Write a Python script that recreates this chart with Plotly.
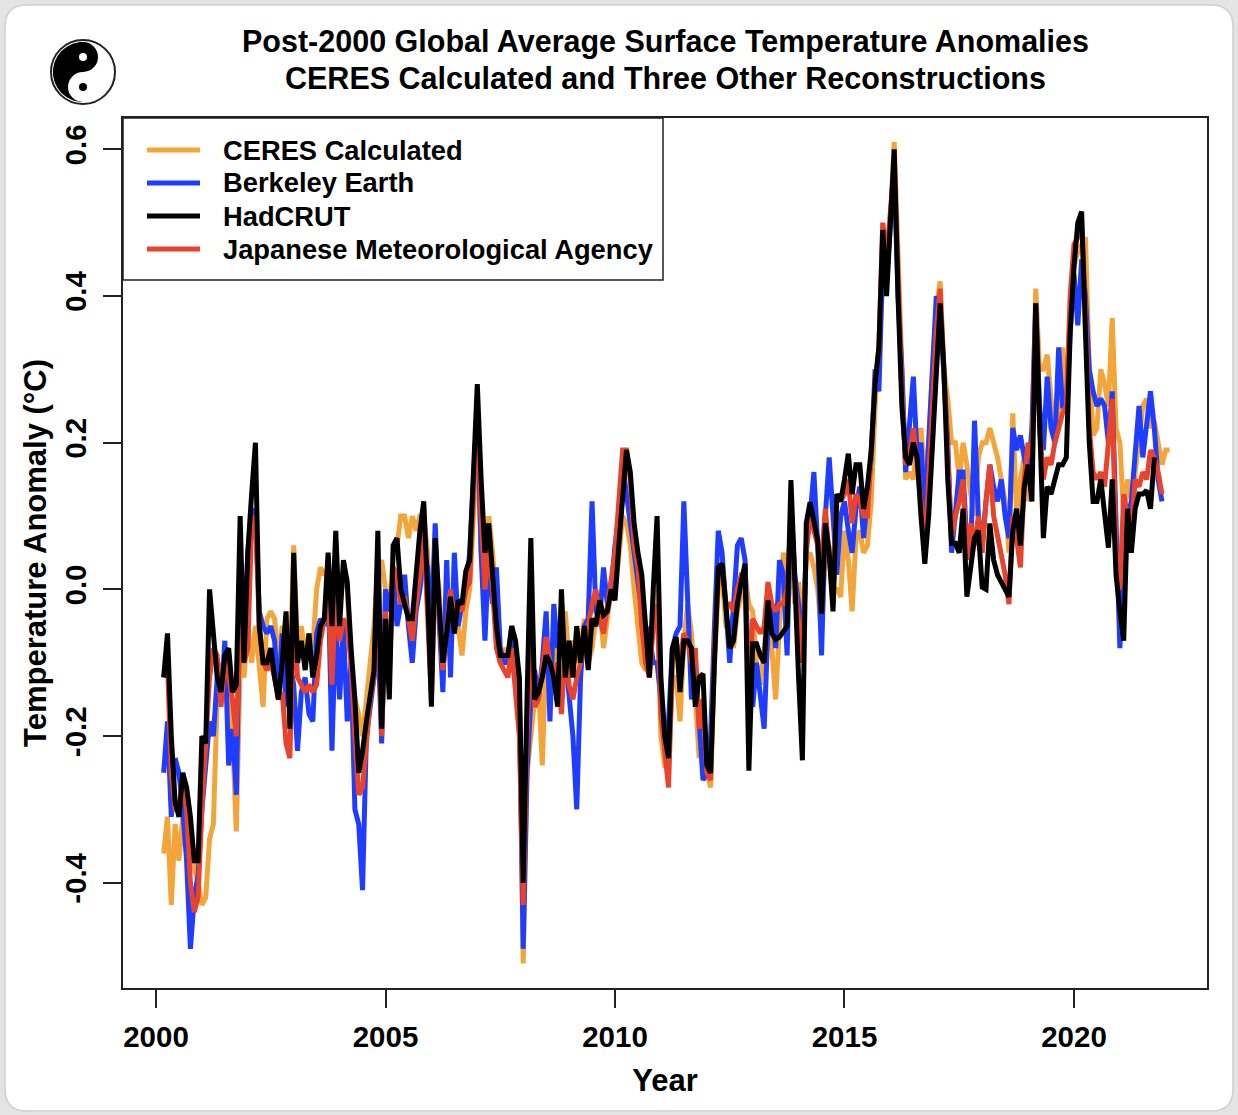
import plotly.graph_objects as go
import numpy as np

# ---------------- data (monthly anomalies, deg C; first value = March 2000) ----------------
start_year = 2000
start_month = 3

ceres = [
    -0.36, -0.31, -0.43, -0.32, -0.37, -0.31, -0.33, -0.35, -0.38, -0.40,              # 2000 Mar-Dec
    -0.43, -0.42, -0.34, -0.32, -0.15, -0.10, -0.12, -0.14, -0.20, -0.33, -0.10, -0.12,  # 2001
    -0.05, -0.10, -0.05, -0.10, -0.16, -0.04, -0.03, -0.04, -0.10, -0.05, -0.06, -0.12,  # 2002
    0.06, -0.08, -0.05, -0.09, -0.06, -0.08, 0.00, 0.03, 0.02, 0.03, -0.03, 0.05,        # 2003
    -0.03, 0.03, 0.00, -0.10, -0.15, -0.17, -0.20, -0.15, -0.10, -0.05, 0.03, 0.04,      # 2004
    0.00, -0.03, 0.05, 0.06, 0.10, 0.10, 0.07, 0.10, 0.08, 0.10, 0.10, 0.05,             # 2005
    -0.05, 0.05, 0.00, -0.10, -0.08, -0.02, -0.06, -0.05, -0.09, -0.03, 0.00, 0.10,      # 2006
    0.20, 0.05, 0.03, 0.10, 0.05, -0.02, -0.10, -0.08, -0.09, -0.06, -0.10, -0.15,       # 2007
    -0.51, -0.25, -0.20, -0.15, -0.13, -0.24, -0.08, -0.10, -0.10, -0.05, -0.05, -0.03,  # 2008
    -0.10, -0.07, -0.10, -0.08, -0.04, -0.10, -0.08, -0.04, -0.02, -0.08, -0.04, 0.00,   # 2009
    -0.01, 0.05, 0.10, 0.09, 0.06, 0.00, -0.05, -0.10, -0.11, -0.10, -0.05, 0.00,        # 2010
    -0.20, -0.24, -0.24, -0.12, -0.12, -0.18, -0.07, -0.02, -0.06, -0.15, -0.23, -0.20,  # 2011
    -0.25, -0.27, -0.10, 0.00, 0.02, -0.05, -0.06, -0.08, -0.03, -0.01, 0.02, -0.02,     # 2012
    -0.03, -0.10, -0.13, -0.08, -0.03, -0.08, -0.15, -0.05, 0.05, 0.02, 0.05, -0.02,     # 2013
    0.01, -0.05, 0.04, 0.05, 0.03, 0.00, -0.06, 0.05, 0.06, 0.00, 0.00, -0.01,           # 2014
    0.08, 0.04, -0.03, 0.07, 0.08, 0.05, 0.06, 0.12, 0.25, 0.33, 0.42, 0.42,             # 2015
    0.50, 0.61, 0.45, 0.28, 0.15, 0.16, 0.15, 0.20, 0.22, 0.15, 0.20, 0.30,              # 2016
    0.38, 0.42, 0.30, 0.26, 0.20, 0.20, 0.15, 0.20, 0.17, 0.13, 0.10, 0.18,              # 2017
    0.20, 0.20, 0.22, 0.20, 0.18, 0.15, 0.12, 0.05, 0.24, 0.10, 0.15, 0.18,              # 2018
    0.12, 0.20, 0.41, 0.30, 0.30, 0.32, 0.25, 0.20, 0.22, 0.33, 0.25, 0.38,              # 2019
    0.44, 0.46, 0.47, 0.48, 0.30, 0.21, 0.22, 0.30, 0.28, 0.25, 0.37, 0.22,              # 2020
    0.20, 0.10, 0.15, 0.12, 0.16, 0.20, 0.25, 0.26, 0.22, 0.23, 0.20, 0.17,              # 2021
    0.19, 0.19,                                                                          # 2022 Jan-Feb
]

berkeley = [
    -0.25, -0.18, -0.31, -0.23, -0.25, -0.30, -0.37, -0.49, -0.42, -0.39,
    -0.30, -0.24, -0.18, -0.20, -0.12, -0.15, -0.07, -0.24, -0.19, -0.28, 0.00, -0.08,
    0.05, 0.11, 0.10, -0.03, -0.05, -0.06, -0.05, -0.07, -0.15, -0.06, -0.16, -0.10,
    -0.13, -0.22, -0.14, -0.12, -0.17, -0.18, -0.06, -0.04, -0.05, 0.02, -0.22, -0.04,
    -0.15, -0.05, -0.18, -0.10, -0.30, -0.32, -0.41, -0.20, -0.16, -0.12, -0.06, -0.21,
    0.00, -0.03, 0.02, -0.05, -0.02, 0.02, -0.05, -0.10, -0.03, 0.00, 0.05, 0.03,
    -0.05, 0.09, -0.04, -0.14, 0.04, -0.12, 0.05, -0.05, -0.02, 0.00, 0.05, 0.15,
    0.25, 0.05, -0.07, 0.05, -0.02, 0.03, -0.08, -0.10, -0.10, -0.05, -0.09, -0.15,
    -0.49, -0.25, -0.15, -0.11, -0.15, -0.10, -0.03, -0.18, -0.02, -0.08, -0.05, -0.09,
    -0.15, -0.20, -0.30, -0.12, -0.05, -0.04, 0.12, -0.03, -0.04, 0.03, -0.02, 0.00,
    0.06, 0.10, 0.17, 0.13, 0.10, 0.06, 0.02, -0.03, -0.05, -0.06, -0.10, -0.10,
    -0.15, -0.19, -0.18, -0.08, -0.06, -0.05, 0.12, -0.02, -0.15, -0.10, -0.17, -0.26,
    -0.25, -0.20, -0.05, 0.08, 0.05, -0.02, -0.10, -0.02, 0.06, 0.07, 0.04, -0.13,
    -0.16, -0.10, -0.15, -0.19, -0.05, -0.02, -0.08, 0.04, 0.02, -0.09, 0.12, 0.02,
    -0.02, -0.10, 0.06, 0.10, 0.16, 0.06, -0.09, 0.10, 0.18, 0.10, 0.02, 0.10,
    0.12, 0.08, 0.05, 0.11, 0.14, 0.07, 0.13, 0.18, 0.30, 0.27, 0.45, 0.42,
    0.50, 0.57, 0.40, 0.30, 0.16, 0.22, 0.29, 0.18, 0.20, 0.10, 0.20, 0.30,
    0.40, 0.38, 0.30, 0.20, 0.05, 0.10, 0.16, 0.16, 0.06, 0.05, 0.23, 0.10,
    0.06, 0.12, 0.17, 0.14, 0.12, 0.15, 0.10, 0.07, 0.22, 0.19, 0.21, 0.18,
    0.15, 0.22, 0.39, 0.25, 0.19, 0.29, 0.22, 0.20, 0.33, 0.25, 0.25, 0.35,
    0.43, 0.36, 0.45, 0.40, 0.30, 0.27, 0.25, 0.26, 0.25, 0.20, 0.27, 0.09,
    -0.08, 0.05, 0.10, 0.12, 0.18, 0.25, 0.18, 0.22, 0.27, 0.22, 0.15, 0.12,
]

hadcrut = [
    -0.12, -0.06, -0.20, -0.29, -0.31, -0.25, -0.27, -0.31, -0.37, -0.37,
    -0.20, -0.21, 0.00, -0.07, -0.12, -0.14, -0.09, -0.08, -0.14, -0.13, 0.10, -0.10,
    0.05, 0.13, 0.20, -0.05, -0.10, -0.10, -0.08, -0.12, -0.15, -0.10, -0.03, -0.19,
    0.05, -0.10, -0.07, -0.11, -0.06, -0.12, -0.09, -0.05, -0.04, 0.05, -0.05, 0.08,
    -0.05, 0.04, 0.01, -0.08, -0.15, -0.25, -0.22, -0.18, -0.14, -0.11, 0.08, -0.19,
    -0.04, -0.15, 0.06, 0.07, 0.00, -0.02, -0.04, -0.04, 0.02, 0.08, 0.12, 0.00,
    -0.16, 0.07, -0.02, -0.10, -0.06, -0.01, -0.06, -0.015, -0.02, 0.025, 0.04, 0.15,
    0.28, 0.15, 0.05, 0.09, 0.02, -0.05, -0.09, -0.09, -0.09, -0.05, -0.07, -0.12,
    -0.40, -0.15, 0.07, -0.15, -0.14, -0.12, -0.09, -0.10, -0.12, -0.16, 0.00, -0.12,
    -0.07, -0.12, -0.05, -0.10, -0.05, -0.11, -0.04, -0.05, -0.015, -0.035, -0.03, 0.00,
    -0.015, 0.06, 0.12, 0.19, 0.16, 0.09, 0.05, 0.02, -0.05, -0.12, 0.00, 0.10,
    -0.12, -0.20, -0.23, -0.08, -0.065, -0.14, -0.07, -0.07, -0.08, -0.16, -0.12, -0.115,
    -0.24, -0.25, -0.10, 0.03, 0.035, -0.02, -0.08, -0.07, -0.02, 0.01, 0.035, -0.247,
    -0.074, -0.074, -0.09, -0.10, -0.015, -0.06, -0.068, -0.065, -0.056, -0.05, 0.149, -0.011,
    -0.12, -0.233, 0.09, 0.119, 0.09, 0.067, -0.033, 0.09, 0.05, -0.03, 0.13, 0.12,
    0.15, 0.185, 0.13, 0.17, 0.17, 0.11, 0.14, 0.19, 0.28, 0.33, 0.49, 0.40,
    0.50, 0.60, 0.40, 0.25, 0.18, 0.17, 0.20, 0.18, 0.10, 0.035, 0.10, 0.20,
    0.30, 0.39, 0.30, 0.15, 0.063, 0.063, 0.05, 0.11, -0.01, 0.03, 0.07, 0.08,
    0.003, 0.00, 0.09, 0.04, 0.02, 0.01, 0.00, -0.01, 0.08, 0.11, 0.06, 0.14,
    0.17, 0.12, 0.39, 0.20, 0.07, 0.14, 0.13, 0.15, 0.17, 0.17, 0.18, 0.35,
    0.44, 0.50, 0.515, 0.35, 0.20, 0.12, 0.12, 0.15, 0.10, 0.057, 0.15, 0.02,
    -0.03, -0.07, 0.11, 0.05, 0.11, 0.13, 0.13, 0.135, 0.11, 0.18,
]

jma = [
    -0.12, -0.10, -0.25, -0.30, -0.30, -0.26, -0.30, -0.40, -0.44, -0.42,
    -0.30, -0.20, -0.12, -0.08, -0.09, -0.16, -0.10, -0.12, -0.15, -0.20, -0.05, -0.10,
    -0.08, 0.09, 0.10, -0.05, -0.10, -0.11, -0.10, -0.12, -0.15, -0.14, -0.21, -0.23,
    -0.02, -0.12, -0.13, -0.14, -0.13, -0.14, -0.13, -0.07, -0.04, 0.00, -0.13, 0.00,
    -0.07, -0.04, -0.05, -0.10, -0.20, -0.28, -0.27, -0.20, -0.15, -0.12, 0.03, -0.20,
    -0.03, -0.12, 0.03, 0.02, -0.02, -0.01, -0.04, -0.07, -0.02, 0.02, 0.08, -0.02,
    -0.15, 0.03, -0.03, -0.11, -0.05, 0.00, -0.04, -0.02, -0.03, 0.00, 0.01, 0.12,
    0.25, 0.10, 0.00, 0.06, 0.00, -0.08, -0.10, -0.11, -0.12, -0.08, -0.15, -0.20,
    -0.43, -0.20, -0.05, -0.16, -0.15, -0.10, -0.065, -0.10, -0.12, -0.10, -0.17, -0.08,
    -0.13, -0.15, -0.12, -0.10, -0.08, -0.05, -0.02, 0.00, -0.04, -0.06, -0.02, 0.01,
    0.05, 0.12, 0.19, 0.19, 0.15, 0.06, 0.03, -0.05, -0.10, -0.12, -0.05, -0.02,
    -0.17, -0.22, -0.27, -0.10, -0.07, -0.10, -0.06, -0.07, -0.10, -0.08, -0.19, -0.15,
    -0.25, -0.26, -0.08, 0.02, 0.035, -0.02, -0.02, -0.03, 0.00, 0.02, 0.02, -0.15,
    -0.04, -0.05, -0.06, -0.05, 0.01, -0.02, -0.03, -0.02, -0.02, 0.00, 0.10, 0.01,
    -0.04, -0.10, 0.05, 0.10, 0.08, 0.06, 0.04, 0.11, 0.05, -0.02, 0.13, 0.12,
    0.13, 0.15, 0.09, 0.13, 0.12, 0.10, 0.10, 0.18, 0.28, 0.33, 0.50, 0.45,
    0.52, 0.58, 0.43, 0.27, 0.17, 0.18, 0.22, 0.17, 0.12, 0.05, 0.15, 0.25,
    0.35, 0.41, 0.30, 0.17, 0.07, 0.10, 0.12, 0.15, 0.04, 0.09, 0.06, 0.10,
    0.05, 0.12, 0.17, 0.10, 0.07, 0.05, 0.02, -0.02, 0.10, 0.07, 0.03, 0.15,
    0.20, 0.18, 0.38, 0.22, 0.15, 0.18, 0.17, 0.20, 0.22, 0.24, 0.25, 0.40,
    0.47, 0.48, 0.50, 0.38, 0.22, 0.16, 0.15, 0.16, 0.14, 0.20, 0.26, 0.05,
    0.00, 0.13, 0.10, 0.08, 0.15, 0.14, 0.16, 0.15, 0.19, 0.18, 0.16, 0.13,
]

series_names = ["CERES Calculated", "Berkeley Earth", "HadCRUT", "Japanese Meteorological Agency"]
series_colors = ["#F4A53A", "#1F3DFF", "#000000", "#E8432D"]

title_lines = ["Post-2000 Global Average Surface Temperature Anomalies",
               "CERES Calculated and Three Other Reconstructions"]

x_ticks = [2000, 2005, 2010, 2015, 2020]
y_ticks = [-0.4, -0.2, 0.0, 0.2, 0.4, 0.6]
y_tick_text = ["-0.4", "-0.2", "0.0", "0.2", "0.4", "0.6"]


def decimal_years(n):
    return [start_year + (start_month - 1 + k) / 12.0 for k in range(n)]


FONT = "Liberation Sans, Arial, Helvetica, sans-serif"
LW = 5

series = {
    "CERES Calculated": ceres,
    "Berkeley Earth": berkeley,
    "HadCRUT": hadcrut,
    "Japanese Meteorological Agency": jma,
}

fig = go.Figure()
# drawing order: orange, blue, red, black (black on top)
draw_order = ["CERES Calculated", "Berkeley Earth", "Japanese Meteorological Agency", "HadCRUT"]
for name in draw_order:
    vals = series[name]
    i = series_names.index(name)
    fig.add_trace(go.Scatter(
        x=decimal_years(len(vals)), y=vals, mode="lines", name=name,
        line=dict(color=series_colors[i], width=LW), showlegend=False,
    ))

# ---------------- pixel helpers ----------------
W, H = 1238, 1115
L, R, T, B = 123, 31, 118, 127
pw, ph = W - L - R, H - T - B


def px(x):
    return (x - L) / pw


def py(y):
    return (H - B - y) / ph


shapes = []
annotations = []

# rounded card background
r = 22
x0, y0, x1, y1 = 5, 5, 1233, 1111
path = (f"M {px(x0 + r)},{py(y0)} L {px(x1 - r)},{py(y0)} "
        f"Q {px(x1)},{py(y0)} {px(x1)},{py(y0 + r)} L {px(x1)},{py(y1 - r)} "
        f"Q {px(x1)},{py(y1)} {px(x1 - r)},{py(y1)} L {px(x0 + r)},{py(y1)} "
        f"Q {px(x0)},{py(y1)} {px(x0)},{py(y1 - r)} L {px(x0)},{py(y0 + r)} "
        f"Q {px(x0)},{py(y0)} {px(x0 + r)},{py(y0)} Z")
shapes.append(dict(type="path", xref="paper", yref="paper", path=path,
                   fillcolor="white", line=dict(color="#cfcfcf", width=1.5), layer="below"))

# simple yin-yang logo
cx, cy, rad = 83, 72, 30
theta = np.linspace(np.pi / 2, 3 * np.pi / 2, 60)
left_half = [(cx + rad * np.cos(t), cy - rad * np.sin(t)) for t in theta]
lp = "M " + " L ".join(f"{px(a)},{py(b)}" for a, b in left_half) + " Z"


def circle(ccx, ccy, rr, fill, line_color=None, lw=0):
    return dict(type="circle", xref="paper", yref="paper",
                x0=px(ccx - rr), x1=px(ccx + rr), y0=py(ccy + rr), y1=py(ccy - rr),
                fillcolor=fill, line=dict(color=line_color or fill, width=lw), layer="above")


shapes.append(circle(cx, cy, rad + 2, "white", "#222222", 2))
shapes.append(dict(type="path", xref="paper", yref="paper", path=lp,
                   fillcolor="black", line=dict(color="black", width=0), layer="above"))
shapes.append(circle(cx, cy - rad / 2, rad / 2, "black"))
shapes.append(circle(cx, cy + rad / 2, rad / 2, "white"))
shapes.append(circle(cx, cy - rad / 2, 4, "white"))
shapes.append(circle(cx, cy + rad / 2, 4, "black"))

# title (two centred lines, as in the R plot)
for yy, line in zip([42, 78], title_lines):
    annotations.append(dict(text=f"<b>{line}</b>", xref="paper", yref="paper",
                            x=px(665), y=py(yy), xanchor="center", yanchor="middle",
                            showarrow=False, font=dict(size=30.5, family=FONT, color="black")))

# legend box (drawn like R's legend)
shapes.append(dict(type="rect", xref="paper", yref="paper",
                   x0=px(123), x1=px(663), y0=py(280), y1=py(118),
                   fillcolor="white", line=dict(color="#222222", width=1.5), layer="above"))
legend_rows = [150, 183, 216, 249]
for i, name in enumerate(series_names):
    yy = legend_rows[i]
    shapes.append(dict(type="line", xref="paper", yref="paper",
                       x0=px(147), x1=px(200), y0=py(yy), y1=py(yy),
                       line=dict(color=series_colors[i], width=LW), layer="above"))
    annotations.append(dict(text=f"<b>{name}</b>", xref="paper", yref="paper",
                            x=px(221), y=py(yy), xanchor="left", yanchor="middle",
                            showarrow=False, font=dict(size=27.3, family=FONT, color="black")))

fig.update_layout(
    width=W, height=H,
    margin=dict(l=L, r=R, t=T, b=B),
    paper_bgcolor="#e4e4e4",
    plot_bgcolor="white",
    font=dict(family=FONT, size=29, color="black"),
    xaxis=dict(
        range=[1999.281, 2022.898], tickmode="array", tickvals=x_ticks,
        ticktext=[f"<b>{v}</b>" for v in x_ticks],
        ticks="outside", ticklen=18, tickwidth=1.5, tickcolor="#222222",
        showline=True, linecolor="#222222", linewidth=1.5, mirror=True,
        showgrid=False, zeroline=False, ticklabelstandoff=4,
        title=dict(text="<b>Year</b>", font=dict(size=31), standoff=17),
        tickfont=dict(size=29.5),
    ),
    yaxis=dict(
        range=[-0.5434, 0.6427], tickmode="array", tickvals=y_ticks,
        ticktext=[f"<b>{t}</b>" for t in y_tick_text], tickangle=-90,
        ticks="outside", ticklen=18, tickwidth=1.5, tickcolor="#222222",
        showline=True, linecolor="#222222", linewidth=1.5, mirror=True,
        showgrid=False, zeroline=False, ticklabelstandoff=5,
        title=dict(text="<b>Temperature Anomaly (°C)</b>", font=dict(size=31), standoff=4),
        tickfont=dict(size=29.5),
    ),
    shapes=shapes,
    annotations=annotations,
    showlegend=False,
)

fig.write_html("out.html",
               config={"displayModeBar": False},
               post_script="document.body.style.margin='0';document.body.style.padding='0';")
